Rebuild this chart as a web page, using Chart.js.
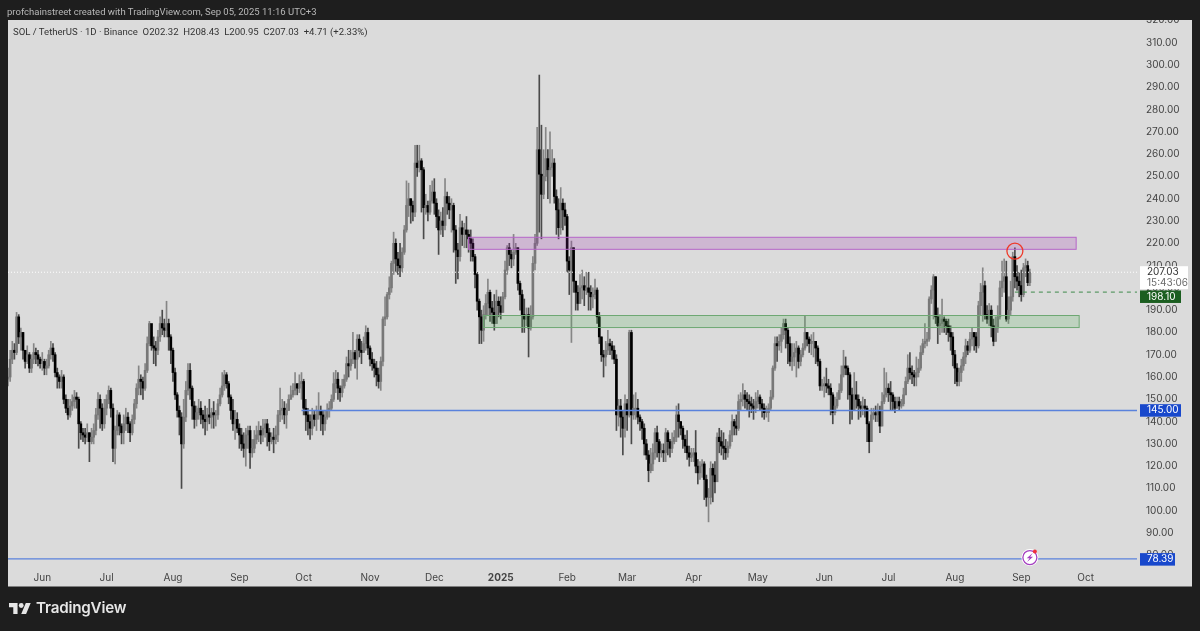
<!DOCTYPE html>
<html>
<head>
<meta charset="utf-8">
<title>SOL / TetherUS</title>
<script src="https://cdn.jsdelivr.net/npm/chart.js@4/dist/chart.umd.min.js"></script>
<style>
html, body { margin: 0; padding: 0; background: #1e1e1e; }
body { width: 1200px; height: 631px; overflow: hidden; position: relative; font-family: Inter, "Noto Sans", sans-serif; }
canvas { position: absolute; left: 0; top: 0; }
#topBar { position: absolute; left: 0; top: 0; width: 1200px; height: 20px; background: #1e1e1e; }
#createdBy { position: absolute; left: 7px; top: 5px; font-family: Roboto, sans-serif; font-size: 9.5px; line-height: 14px; color: #b8b8b8; white-space: nowrap; }
#symbol { position: absolute; left: 13px; top: 25px; font-family: Roboto, sans-serif; font-size: 9.55px; line-height: 14px; color: #333; white-space: pre; }
#logo { position: absolute; left: 9px; top: 603px; }
#brand { position: absolute; left: 36px; top: 597px; font-size: 15.2px; line-height: 22px; font-weight: 600; color: #e6e6e6; letter-spacing: -0.2px; }
</style>
</head>
<body>
<canvas id="priceChart" width="1200" height="631"></canvas>
<div id="topBar"></div>
<div id="createdBy">profchainstreet created with TradingView.com, Sep 05, 2025 11:16 UTC+3</div>
<div id="symbol">SOL / TetherUS · 1D · Binance  O202.32  H208.43  L200.95  C207.03  +4.71 (+2.33%)</div>
<svg id="logo" width="22" height="11" viewBox="0 4 36 18"><path fill="#e6e6e6" d="M14 22H7V11H0V4h14v18zM28 22h-8l7.5-18h8L28 22z"/><circle fill="#e6e6e6" cx="20" cy="8" r="4"/></svg>
<div id="brand">TradingView</div>

<script>
// daily candles, May 16 2024 to Sep 05 2025
var opens = [
159,160,168,172,171,187,178,180,172,167,
170,164,168,171,170,168,166,167,164,165,
170,173,170,162,160,158,160,150,146,143,
147,149,151,150,139,135,134,133,135,131,
133,136,143,150,146,139,146,150,154,146,
128,136,143,138,135,139,142,139,135,141,
148,155,159,158,155,163,175,184,174,173,
172,178,184,182,181,184,178,172,162,152,
145,142,130,142,154,163,155,147,141,144,
146,143,141,140,143,142,144,143,143,148,
152,156,161,157,151,145,139,141,137,134,
130,128,134,136,126,128,132,134,136,134,
137,139,135,131,133,132,134,143,145,146,
143,145,150,152,154,157,155,157,158,146,
143,140,137,143,141,143,145,143,139,142,
145,146,150,157,159,155,153,156,159,166,
165,168,171,168,177,172,171,175,180,173,
168,166,164,161,158,167,186,187,197,200,
211,220,213,210,209,216,226,237,240,237,
234,256,254,257,253,236,237,234,239,243,
238,232,226,230,228,241,238,235,237,226,
217,214,227,224,226,224,222,220,214,206,
194,187,181,188,193,198,191,189,184,194,
192,189,196,208,218,215,213,216,218,202,
197,188,186,188,182,187,211,220,262,251,
242,250,258,253,254,256,241,235,227,238,
235,232,212,208,218,203,198,193,200,201,
199,200,198,196,197,199,187,178,170,169,
172,175,174,172,168,143,147,142,137,148,
143,180,143,146,146,142,140,137,130,125,
118,121,126,135,131,126,127,126,135,131,
128,131,133,143,140,137,132,129,126,124,
125,126,120,117,120,121,114,106,106,119,
116,113,133,131,129,128,126,129,134,140,
138,137,149,150,152,150,149,148,147,146,
149,151,148,146,144,144,146,151,164,175,
174,176,179,184,181,175,167,169,171,173,
167,170,173,180,177,175,176,176,173,167,
156,156,157,156,155,152,144,147,150,154,
161,165,164,161,152,145,152,150,147,146,
147,146,139,131,143,144,143,145,138,149,
152,155,153,152,149,146,149,147,148,152,
158,164,162,161,160,162,164,171,175,176,
177,195,199,205,187,183,184,186,185,183,
180,178,170,164,158,162,165,169,174,172,
177,180,178,174,192,198,201,188,186,190,
183,176,182,187,200,203,205,186,190,196,
214,205,203,201,197,209,210,202.32
];
var highs = [
164,172,176,175,189,188,182,180,172,174,
171,170,175,173,172,169,171,168,168,172,
176,175,171,164,161,163,161,152,150,150,
152,154,153,151,140,137,137,139,135,137,
139,146,153,152,148,150,152,156,155,148,
138,145,144,139,143,146,144,140,143,150,
157,165,161,160,166,178,185,180,178,176,
181,187,190,186,194,186,179,173,164,153,
147,144,150,158,166,166,156,149,147,150,
149,145,147,146,150,146,149,145,150,155,
162,163,162,158,152,150,145,144,139,137,
135,137,138,138,132,136,138,140,138,141,
141,141,137,135,137,138,145,155,150,149,
148,152,156,157,162,157,161,162,159,150,
146,143,146,145,147,153,147,145,145,148,
149,152,162,163,162,156,159,161,169,172,
172,180,172,179,179,176,178,183,182,174,
171,168,167,164,169,187,196,198,205,212,
225,222,216,220,218,228,248,247,240,239,
264,264,264,258,254,242,239,246,248,249,
240,235,234,236,249,243,241,240,238,228,
220,233,230,229,232,226,226,222,215,207,
195,190,192,197,204,199,194,197,199,196,
196,198,212,219,220,217,224,220,218,203,
199,195,191,191,192,214,224,272,295.5,273,
262,272,262,270,262,258,244,240,245,240,
238,233,214,221,218,203,201,206,208,205,
207,207,201,200,204,200,189,178,172,176,
181,177,176,174,170,150,150,145,152,150,
181,181,152,153,150,143,141,139,132,127,
128,130,137,138,132,130,130,137,136,132,
135,136,147,148,140,138,134,136,129,128,
128,136,123,122,123,122,116,110,122,121,
122,135,137,136,135,132,131,136,143,141,
143,152,153,157,154,153,152,151,150,153,
154,152,150,148,147,148,154,165,178,178,
179,182,186,186,182,178,175,175,176,174,
172,175,187.6,180,178,179,180,176,174,168,
159,160,164,159,157,153,151,153,157,165,
172,169,165,162,155,162,158,152,149,151,
150,147,140,146,146,147,148,147,153,164,
162,157,158,153,151,151,151,150,155,160,
170,171,165,163,169,168,174,177,184,180,
196,201,206,205,191,188,195,187,186,186,
183,180,172,166,164,168,171,177,176,180,
182,180,180,194,202,209,203,192,193,192,
186,187,192,203,212,213,212,196,203,216,
218,210,207,208,211,213,212,208.43
];
var lows = [
156,158,166,168,170,175,172,168,164,166,
162,162,166,166,165,164,163,161,161,164,
168,167,160,155,155,155,148,144,141,142,
145,146,146,128,132,131,130,131,122,130,
130,134,141,137,136,137,143,148,142,122,
121,134,134,130,130,136,135,131,134,139,
146,152,152,150,154,162,174,172,166,165,
170,176,179,178,178,172,166,158,150,142,
134,110,128,140,152,150,141,137,138,141,
139,137,134,136,139,137,137,138,141,147,
151,154,155,148,141,136,132,135,128,127,
124,120,128,119,124,126,130,131,130,131,
133,129,127,130,126,130,131,140,141,139,
137,145,150,151,152,152,153,150,143,136,
134,132,134,138,136,141,136,134,136,141,
142,145,149,153,150,149,151,155,158,160,
163,166,164,159,169,166,171,172,170,165,
163,160,156,155,154,165,183,186,195,198,
206,207,206,205,207,215,225,232,229,230,
232,250,252,234,222,233,230,233,238,233,
227,215,224,223,226,233,231,225,216,202,
204,212,219,218,218,216,212,212,200,190,
175,175,176,186,188,185,184,181,184,187,
186,189,195,206,210,209,210,215,199,190,
180,180,183,169,181,186,208,219,225,222,
240,248,240,238,250,238,224,222,224,226,
228,207,197,175.5,198,190,190,193,195,192,
197,190,190,191,195,184,175,167,160,165,
170,170,168,166,136,138,133,125,133,136,
142,130,141,141,139,136,132,125,123,113,
117,118,123,124,122,124,122,122,125,124,
126,130,131,133,134,128,126,123,120,122,
122,117,112,114,115,105,102,95,103,104,
108,113,126,125,123,123,124,128,131,134,
134,136,145,147,146,145,142,144,141,144,
146,145,142,141,142,140,145,150,163,167,
172,171,177,173,166,165,163,165,160,164,
165,169,172,174,171,170,169,166,165,154,
154,151,153,152,143,139,143,146,150,153,
160,161,150,139,141,145,146,141,142,143,
142,131,126,131,141,140,140,135,138,148,
151,149,145,145,144,146,145,146,147,152,
157,159,157,156,156,160,163,170,173,174,
176,193,186,184,175,179,180,180,179,176,
172,165,157,156,156,158,163,166,170,171,
174,172,171,173,188,185,186,184,183,178,
174,176,180,186,196,198,185,184,188,194,
200,199,196,194,196,205,201,200.95
];
var closes = [
160,168,172,171,187,178,180,172,167,170,
164,168,171,170,168,166,167,164,165,170,
173,170,162,160,158,160,150,146,143,147,
149,151,150,139,135,134,133,135,131,133,
136,143,150,146,139,146,150,154,146,128,
136,143,138,135,139,142,139,135,141,148,
155,159,158,155,163,175,184,174,173,172,
178,184,182,181,184,178,172,162,152,145,
142,130,142,154,163,155,147,141,144,146,
143,141,140,143,142,144,143,143,148,152,
156,161,157,151,145,139,141,137,134,130,
128,134,136,126,128,132,134,136,134,137,
139,135,131,133,132,134,143,145,146,143,
145,150,152,154,157,155,157,158,146,143,
140,137,143,141,143,145,143,139,142,145,
146,150,157,159,155,153,156,159,166,165,
168,171,168,177,172,171,175,180,173,168,
166,164,161,158,167,186,187,197,200,211,
220,213,210,209,216,226,237,240,237,234,
256,254,257,253,236,237,234,239,243,238,
232,226,230,228,241,238,235,237,226,217,
214,227,224,226,224,222,220,214,206,194,
187,181,188,193,198,191,189,184,194,192,
189,196,208,218,215,213,216,218,202,197,
188,186,188,182,187,211,220,262,251,242,
250,258,253,254,256,241,235,227,238,235,
232,212,208,218,203,198,193,200,201,199,
200,198,196,197,199,187,178,170,169,172,
175,174,172,168,143,147,142,137,148,143,
180,143,146,146,142,140,137,130,125,118,
121,126,135,131,126,127,126,135,131,128,
131,133,143,140,137,132,129,126,124,125,
126,120,117,120,121,114,106,106,119,116,
113,133,131,129,128,126,129,134,140,138,
137,149,150,152,150,149,148,147,146,149,
151,148,146,144,144,146,151,164,175,174,
176,179,184,181,175,167,169,171,173,167,
170,173,180,177,175,176,176,173,167,156,
156,157,156,155,152,144,147,150,154,161,
165,164,161,152,145,152,150,147,146,147,
146,139,131,143,144,143,145,138,149,152,
155,153,152,149,146,149,147,148,152,158,
164,162,161,160,162,164,171,175,176,177,
195,199,205,187,183,184,186,185,183,180,
178,170,164,158,162,165,169,174,172,177,
180,178,174,192,198,201,188,186,190,183,
176,182,187,200,203,205,186,190,196,214,
205,203,201,197,209,210,202.32,207.03
];

// month ticks: bar index of the first day of each month
var monthIndex = [16,46,77,108,138,169,199,230,261,289,320,350,381,411,442,473,503];
var monthLabels = ['Jun','Jul','Aug','Sep','Oct','Nov','Dec','2025','Feb','Mar','Apr','May','Jun','Jul','Aug','Sep','Oct'];

// drawn levels and zones
var blueLevel = 145;
var blueLevelStart = 137;
var lowLevel = 78.39;
var lastPrice = 207.03;
var dashedLevel = 198.10;
var dashedLevelStart = 470;
var pinkZone = [215, 498.6, 217.3, 222.7];
var greenZone = [222, 500, 182.2, 187.6];
var circleMark = [470, 216.5];
var boltMark = [477, 79];

var totalDays = 528;
var fontName = 'Inter, "Noto Sans", sans-serif';

var days = [];
var d = new Date(Date.UTC(2024, 4, 16));
for (var i = 0; i < totalDays; i++) {
    days.push(d.toISOString().slice(0, 10));
    d.setUTCDate(d.getUTCDate() + 1);
}

var bodyData = [], wickData = [], bodyColors = [], wickColors = [];
for (var j = 0; j < closes.length; j++) {
    bodyData.push([opens[j], closes[j]]);
    wickData.push([lows[j], highs[j]]);
    var up = closes[j] >= opens[j];
    bodyColors.push(up ? '#787878' : '#000000');
    wickColors.push(up ? '#868686' : '#4a4a4a');
}

function levelLine(start, price, color, dash, width) {
    return {
        type: 'line',
        data: [{ x: days[start], y: price }, { x: days[totalDays - 1], y: price }],
        borderColor: color,
        borderWidth: width,
        borderDash: dash,
        pointRadius: 0,
        order: 0
    };
}

function drawZone(chart, zone, fill, stroke) {
    var xs = chart.scales.x, ys = chart.scales.y, c = chart.ctx;
    var x1 = xs.getPixelForValue(zone[0]), x2 = xs.getPixelForValue(zone[1]);
    var y1 = ys.getPixelForValue(zone[3]), y2 = ys.getPixelForValue(zone[2]);
    c.fillStyle = fill;
    c.fillRect(x1, y1, x2 - x1, y2 - y1);
    c.strokeStyle = stroke;
    c.lineWidth = 1;
    c.strokeRect(x1, y1, x2 - x1, y2 - y1);
}

function priceTag(chart, price, shift, right, bg, color, text, subText) {
    var c = chart.ctx;
    var y = chart.scales.y.getPixelForValue(price) + shift;
    var h = subText ? 23 : 12.5;
    var top = subText ? y - 6 : y - h / 2;
    c.fillStyle = bg;
    c.fillRect(1140, top, right - 1140, h);
    c.font = '10px ' + fontName;
    c.textAlign = 'left';
    c.textBaseline = 'middle';
    c.fillStyle = color;
    c.fillText(text, 1147, top + 6.2);
    if (subText) {
        c.fillStyle = '#6a6a6a';
        c.fillText(subText, 1147, top + 17);
    }
}

var tvDecor = {
    id: 'tvDecor',
    beforeDraw: function (chart) {
        var c = chart.ctx;
        c.fillStyle = '#dbdbdb';
        c.fillRect(8, 20, 1184, 566.5);
    },
    afterDraw: function (chart) {
        var xs = chart.scales.x, ys = chart.scales.y, c = chart.ctx;
        // zones sit over the candles, semi transparent
        drawZone(chart, pinkZone, 'rgba(156,39,176,0.2)', '#b664c8');
        drawZone(chart, greenZone, 'rgba(76,175,80,0.2)', '#6ea873');

        // red circle at the zone touch
        c.beginPath();
        c.arc(xs.getPixelForValue(circleMark[0]), ys.getPixelForValue(circleMark[1]), 8, 0, Math.PI * 2);
        c.strokeStyle = '#ee3a2a';
        c.lineWidth = 1.3;
        c.stroke();

        priceTag(chart, lastPrice, 0, 1188, '#ffffff', '#333333', '207.03', '15:43:06');
        priceTag(chart, dashedLevel, 4.6, 1181, '#1b5e20', '#ffffff', '198.10');
        priceTag(chart, blueLevel, 0, 1181, '#1848cc', '#ffffff', '145.00');
        priceTag(chart, lowLevel, 0.5, 1175, '#1848cc', '#ffffff', '78.39');

        // bolt badge on the bottom line
        var bx = xs.getPixelForValue(boltMark[0]), by = ys.getPixelForValue(boltMark[1]);
        c.beginPath();
        c.arc(bx, by, 8.5, 0, Math.PI * 2);
        c.fillStyle = '#ffffff';
        c.fill();
        c.beginPath();
        c.arc(bx, by, 7, 0, Math.PI * 2);
        c.strokeStyle = '#a43fc0';
        c.lineWidth = 1.3;
        c.stroke();
        c.beginPath();
        c.moveTo(bx + 2.8, by - 4.5);
        c.lineTo(bx - 3.2, by + 0.8);
        c.lineTo(bx - 0.3, by + 0.8);
        c.lineTo(bx - 2.8, by + 4.5);
        c.lineTo(bx + 3.2, by - 0.8);
        c.lineTo(bx + 0.3, by - 0.8);
        c.closePath();
        c.fillStyle = '#a43fc0';
        c.fill();
        c.beginPath();
        c.arc(bx + 5, by - 6, 2, 0, Math.PI * 2);
        c.fillStyle = '#f0303a';
        c.fill();
    }
};

var ctx = document.getElementById('priceChart').getContext('2d');
var priceChart = new Chart(ctx, {
    type: 'bar',
    plugins: [tvDecor],
    data: {
        labels: days,
        datasets: [
            { data: bodyData, backgroundColor: bodyColors, barThickness: 2, grouped: false, order: 1 },
            { data: wickData, backgroundColor: wickColors, barThickness: 1, grouped: false, order: 2 },
            levelLine(blueLevelStart, blueLevel, '#5a82dc', [], 1.4),
            levelLine(0, lowLevel, '#5a82dc', [], 1.4),
            levelLine(0, lastPrice, '#ffffff', [1, 2], 1),
            levelLine(dashedLevelStart, dashedLevel, '#3f8a4c', [4, 4], 1)
        ]
    },
    options: {
        responsive: false,
        animation: false,
        layout: { padding: { left: 8, top: 20, right: 8, bottom: 44 } },
        plugins: { legend: { display: false }, tooltip: { enabled: false } },
        scales: {
            x: {
                offset: false,
                grid: { display: false, drawTicks: false },
                border: { display: false },
                afterFit: function (scale) { scale.height = 20; },
                ticks: {
                    autoSkip: false,
                    maxRotation: 0,
                    minRotation: 0,
                    padding: 5,
                    color: '#444444',
                    font: function (c) {
                        var bold = c.tick && c.tick.value === 230;
                        return { family: fontName, size: 10, weight: bold ? 'bold' : 'normal' };
                    },
                    callback: function (value) {
                        var k = monthIndex.indexOf(value);
                        return k >= 0 ? monthLabels[k] : '';
                    }
                }
            },
            y: {
                position: 'right',
                min: 74.75,
                max: 320.2,
                grid: { display: false, drawTicks: false },
                border: { display: false },
                afterFit: function (scale) { scale.width = 55; },
                ticks: {
                    stepSize: 10,
                    includeBounds: false,
                    padding: 9,
                    color: '#444444',
                    font: { family: fontName, size: 10 },
                    callback: function (value) { return value.toFixed(2); }
                }
            }
        }
    }
});
</script>
</body>
</html>
